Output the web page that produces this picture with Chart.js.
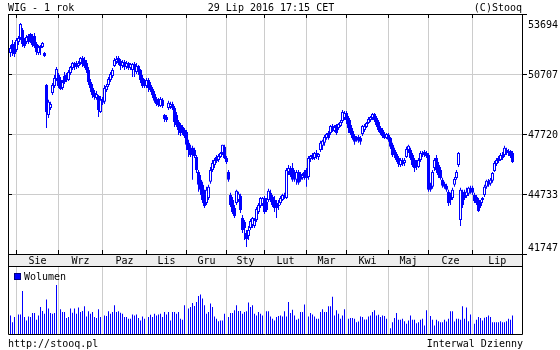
<!DOCTYPE html>
<html>
<head>
<meta charset="utf-8">
<script src="https://cdn.jsdelivr.net/npm/chart.js@4.4.1/dist/chart.umd.min.js"></script>
<style>
  body { margin: 0; background: #fff; }
  #wrap { position: relative; width: 560px; height: 350px; }
  canvas { position: absolute; left: 0; top: 0; }
</style>
</head>
<body>
<div id="wrap">
  <canvas id="price" width="560" height="350"></canvas>
  <canvas id="vol" width="560" height="350"></canvas>
</div>
<script>
// month labels and the index of the first session of each month
const months = ['Sie', 'Wrz', 'Paz', 'Lis', 'Gru', 'Sty', 'Lut', 'Mar', 'Kwi', 'Maj', 'Cze', 'Lip'];
const monthStart = [3, 24, 46, 68, 88, 108, 127, 148, 168, 189, 209, 231];
const priceTicks = [41747, 44733, 47720, 50707, 53694];

// daily WIG candles, 29 Jul 2015 - 29 Jul 2016
const open = [
  51750,52200,52100,51900,52300,52500,52900,52300,52300,52600,52700,52500,52600,52200,51750,52000,52050,51750,50160,48670,
  49020,49760,50110,50460,50660,50410,50010,50610,50660,50410,50760,51010,51110,51260,51110,51260,51500,51410,51260,50910,
  50310,50010,49760,49510,49610,48820,49460,49320,49910,50160,50410,50610,51110,51310,51500,51360,51110,51310,51060,51260,
  51010,50910,51210,50810,51110,50910,50510,50310,50110,50410,50160,49960,49710,49460,49420,49120,49420,48670,48570,49020,
  49070,49220,49020,48670,48320,48170,48070,47920,47820,47280,47030,47030,46930,46580,45830,45440,45190,44690,44290,44540,
  45340,45930,46180,46580,46430,46580,46780,47080,46530,45830,44690,44440,44040,44290,44440,44640,43540,43340,42790,
  42640,43040,43190,43140,43440,43840,44140,44240,44540,44340,44440,44790,44590,44440,44290,44190,44290,44440,44540,44540,
  45830,45930,46030,45680,45440,45830,45730,45530,45830,45930,45580,46480,46680,46530,46780,46580,46930,47130,47280,47520,
  47770,47770,48120,47870,48170,48020,48120,48370,48520,48770,48520,48170,47870,47620,47520,47570,47520,47720,47920,48070,
  48270,48420,48520,48720,48520,48320,48020,47920,47720,47520,47670,47520,47180,46930,46730,46530,46180,46430,46280,46580,
  46930,46930,46680,46430,46280,46080,46430,46680,46830,46780,46680,45190,45090,46030,46530,46180,45930,45440,45240,45140,
  44840,44690,44540,45190,45530,46180,43440,44690,44840,44640,44740,45040,45040,44690,44590,44440,44340,44440,44690,45090,
  45390,45240,45390,45880,46230,46530,46430,46680,46680,46930,46880,46880,46780
];
const high = [
  52150,52400,52300,52500,52600,53250,53000,52500,52650,52700,52750,52700,52750,52300,52150,52150,52300,51800,50210,49420,
  49320,50260,50660,51060,50760,50560,50410,50810,50760,50910,51110,51310,51310,51360,51360,51550,51600,51550,51410,51060,
  50460,50210,49910,49860,49660,49610,49560,50160,50210,50560,50810,51010,51500,51600,51600,51450,51410,51410,51360,51310,
  51260,51260,51310,51260,51160,50960,50660,50460,50510,50510,50310,50060,49860,49560,49510,49560,49510,48720,48670,49370,
  49320,49320,49120,48820,48420,48270,48170,48020,47920,47430,47180,47130,47030,46680,45930,45680,45340,44940,45090,45190,
  46080,46430,46530,46680,46730,46830,47180,47180,46630,45930,44790,44590,44190,44940,44840,44740,43690,43440,42940,
  43140,43490,43590,43540,44090,44290,44590,44590,44640,44540,44990,44940,44690,44640,44440,44440,44640,44740,44790,46030,
  46180,46130,46280,45930,45930,45930,45830,45780,45930,46030,46630,46680,46780,46830,46930,46780,47380,47430,47670,47770,
  47870,48170,48220,48170,48220,48270,48420,48920,48870,48870,48620,48420,48020,47720,47620,47670,47620,48170,48220,48320,
  48570,48620,48770,48770,48620,48420,48120,48020,47820,47770,47770,47570,47280,47030,46830,46630,46530,46530,46530,47080,
  47180,47030,46780,46530,46430,46530,46880,46880,46930,46880,46780,45290,45930,46530,46680,46330,46080,45540,45340,45240,
  44940,44790,45040,45580,45930,46830,45040,44940,44940,45040,45090,45140,45140,44790,44690,44540,44440,44590,45190,45440,
  45480,45530,45830,46380,46530,46630,46780,46830,47130,47030,46980,46930,46880
];
const low = [
  51550,51600,51550,51800,52150,52400,52050,52000,52200,52200,52250,52050,52000,51650,51650,51650,52000,51550,48020,48520,
  48920,49660,50010,50360,50010,49910,49910,50210,50310,50360,50660,50910,50910,50960,51010,51160,51060,51010,50760,50160,
  49810,49510,49420,49420,48570,48770,49170,49220,49810,50060,50310,50510,51060,51210,51160,50910,51010,50910,50960,50910,
  50910,50560,50560,50710,50660,50260,50010,50010,50010,49810,49810,49510,49270,49120,49070,49070,49020,48320,48320,48920,
  48970,48920,48070,48070,47670,47620,47670,47520,46930,46580,46580,45440,46530,45780,44840,44690,44290,44040,44190,44440,
  45240,45830,46030,46280,46330,46530,46680,46480,46230,45340,44090,43740,43540,44190,44340,43790,42790,42440,42090,
  42440,42940,43040,43040,43340,43740,44040,44140,43740,43840,44340,44340,44090,43840,43540,43940,44190,44390,44490,44490,
  45680,45580,45340,45340,45190,45190,45340,45440,45440,45090,45440,46330,46430,46430,46480,46430,46830,46930,47130,47430,
  47430,47670,47820,47820,47670,47920,48070,48270,48420,48220,47770,47670,47430,47180,47330,47280,47180,47620,47820,48020,
  48220,48320,48420,48320,48070,47820,47670,47520,47470,47470,47330,46980,46580,46530,46330,46080,46080,46130,46130,46530,
  46780,46430,46080,45830,45930,46030,46330,46580,46580,46530,44840,44840,44990,45880,45780,45530,45440,45040,44990,44840,
  44140,44190,44440,45090,45440,46080,43140,44040,44440,44540,44640,44740,44690,44290,44190,43840,44040,44290,44590,44990,
  45090,45140,45290,45830,46130,46280,46380,46430,46580,46680,46630,46530,46280
];
const close = [
  52000,51800,51700,52400,52500,53200,52200,52100,52550,52300,52400,52150,52100,51800,52050,52100,52250,51600,48820,49320,
  49220,50160,50510,50960,50110,49960,50310,50310,50410,50810,51060,51260,51210,51060,51260,51500,51210,51110,50910,50310,
  50010,49660,49560,49710,48920,49420,49270,50010,50110,50460,50710,50910,51410,51450,51260,51110,51310,51060,51260,51010,
  51210,51210,50910,51110,50810,50410,50110,50110,50410,50010,49910,49660,49370,49220,49170,49460,49120,48470,48420,49270,
  49220,49020,48320,48170,47920,47770,47820,47620,47180,46930,46680,46780,46630,45930,45190,44940,44440,44140,44940,45090,
  45930,46280,46430,46380,46630,46780,47180,46530,46330,45440,44190,43840,43640,44890,44740,43940,42940,43040,42490,
  42940,43390,43540,43440,43990,44190,44540,44540,43840,43940,44890,44440,44190,44040,44040,44140,44540,44690,44640,45930,
  46030,45680,45440,45530,45830,45290,45440,45680,45580,45530,46530,46630,46480,46780,46580,46730,47280,47380,47570,47720,
  47520,48120,47920,48070,47770,48220,48320,48820,48770,48420,48020,47770,47520,47330,47430,47380,47330,48120,48120,48270,
  48470,48570,48720,48420,48170,47920,47770,47620,47520,47720,47430,47080,46680,46730,46430,46230,46430,46230,46430,46980,
  47130,46530,46180,46030,46080,46430,46780,46780,46680,46630,44940,44940,45830,46430,45930,45680,45530,45140,45090,44940,
  44290,44440,44940,45480,45830,46780,44940,44190,44540,44840,45040,44840,44790,44390,44290,43890,44140,44540,45090,45390,
  45190,45440,45780,46280,46430,46380,46680,46530,47030,46780,46830,46630,46330
];
// Wolumen (mln PLN)
const volume = [
  458,292,417,292,483,483,1058,417,333,433,417,517,517,350,458,666,566,500,850,625,
  517,500,517,1208,500,608,541,541,392,417,625,525,625,500,650,541,566,683,433,558,
  500,541,417,392,608,417,375,458,441,558,500,541,708,541,558,525,500,417,417,375,
  375,483,458,483,392,333,433,375,333,417,475,417,500,458,483,500,417,541,483,541,
  333,541,541,500,541,375,350,708,600,625,666,766,691,791,933,975,875,708,500,541,
  750,666,433,375,317,333,333,500,267,417,517,517,583,708,566,566,500,541,558,775,
  666,708,500,458,541,500,458,500,558,558,433,375,333,417,441,458,433,558,433,791,
  517,600,458,350,375,541,541,725,558,433,517,483,433,375,375,541,608,541,541,683,
  683,916,458,583,500,375,458,608,358,375,392,392,375,292,308,433,417,358,358,433,
  458,541,583,458,475,417,458,441,375,417,142,292,392,517,350,350,375,317,250,333,
  458,350,350,267,292,350,375,208,583,500,441,350,208,350,317,292,292,350,308,375,
  558,558,308,375,375,350,683,375,650,317,483,308,250,350,417,392,333,400,417,458,
  417,292,292,292,292,317,292,292,317,375,350,458
];

const BLUE = '#0000ff';
const GRID = '#cccccc';
const FONT = '10px "DejaVu Sans Mono"';
const X_MIN = -1.25, X_MAX = 255.75;
const idx = close.map((_, i) => i);

function xScale(gridOnTop) {
  return {
    type: 'linear', min: X_MIN, max: X_MAX, offset: false,
    grid: { color: GRID, drawTicks: false, offset: false, z: gridOnTop ? 1 : -1 },
    border: { display: false },
    ticks: { display: false },
    afterBuildTicks: s => { s.ticks = monthStart.map(v => ({ value: v })); },
    afterFit: s => { s.height = 0; }
  };
}

function text(ctx, s, x, y, align) {
  ctx.textAlign = align || 'left';
  ctx.fillText(s, x, y);
}

const frame = {
  id: 'frame',
  afterDraw(chart) {
    const ctx = chart.ctx, a = chart.chartArea;
    const xs = chart.scales.x, ys = chart.scales.y;
    const col = v => Math.floor(xs.getPixelForValue(v)) + 0.5;
    ctx.save();
    ctx.strokeStyle = '#000';
    ctx.lineWidth = 1;
    ctx.strokeRect(a.left + 0.5, a.top + 0.5, a.right - a.left, a.bottom - a.top);

    // month band
    ctx.fillStyle = '#eeeeee';
    ctx.fillRect(a.left, a.bottom, a.right - a.left, 12);
    ctx.strokeRect(a.left + 0.5, a.bottom + 0.5, a.right - a.left, 12);

    // volume panel frame
    ctx.beginPath();
    ctx.moveTo(a.left + 0.5, a.bottom + 12);
    ctx.lineTo(a.left + 0.5, 334.5);
    ctx.lineTo(a.right + 0.5, 334.5);
    ctx.lineTo(a.right + 0.5, a.bottom + 12);
    ctx.stroke();

    // ticks
    ctx.beginPath();
    priceTicks.forEach(v => {
      const y = Math.round(ys.getPixelForValue(v)) + 0.5;
      ctx.moveTo(a.left, y); ctx.lineTo(a.left + 4, y);
      ctx.moveTo(a.right, y); ctx.lineTo(a.right + 5, y);
    });
    monthStart.forEach(v => {
      const x = col(v);
      ctx.moveTo(x, a.bottom - 4); ctx.lineTo(x, a.bottom);
      ctx.moveTo(x, a.top); ctx.lineTo(x, a.top + 4);
    });
    ctx.stroke();

    ctx.fillStyle = '#000';
    ctx.font = FONT;
    ctx.textBaseline = 'alphabetic';
    // price labels, kept inside the plot height
    priceTicks.forEach(v => {
      const y = ys.getPixelForValue(v) + 4;
      text(ctx, String(v), a.right + 6, Math.min(Math.max(y, a.top + 14), a.bottom - 3));
    });
    // month labels centred in each month
    months.forEach((m, i) => {
      const x0 = xs.getPixelForValue(monthStart[i]);
      const x1 = xs.getPixelForValue(i + 1 < monthStart.length ? monthStart[i + 1] : X_MAX);
      text(ctx, m, (x0 + x1) / 2, a.bottom + 10, 'center');
    });

    // header and footer
    text(ctx, 'WIG - 1 rok', 8, 11);
    text(ctx, '29 Lip 2016 17:15 CET', 271, 11, 'center');
    text(ctx, '(C)Stooq', 522, 11, 'right');
    text(ctx, 'http://stooq.pl', 8, 347);
    text(ctx, 'Interwal Dzienny', 523, 347, 'right');
    ctx.restore();
  }
};

// legend of the volume panel, drawn after its grid
const volLegend = {
  id: 'volLegend',
  afterDraw(chart) {
    const ctx = chart.ctx, a = chart.chartArea;
    ctx.save();
    ctx.fillStyle = BLUE;
    ctx.fillRect(a.left + 6, a.top + 6, 7, 7);
    ctx.strokeStyle = '#000080';
    ctx.lineWidth = 1;
    ctx.strokeRect(a.left + 6.5, a.top + 6.5, 6, 6);
    ctx.fillStyle = '#000';
    ctx.font = FONT;
    text(ctx, 'Wolumen', a.left + 16, a.top + 13);
    ctx.restore();
  }
};

new Chart(document.getElementById('price'), {
  type: 'bar',
  data: {
    datasets: [
      {
        data: idx.map(i => ({ x: i, y: [low[i], high[i]] })),
        backgroundColor: BLUE,
        barThickness: 1,
        inflateAmount: 0,
        grouped: false,
        order: 1
      },
      {
        data: idx.map(i => ({ x: i, y: [open[i], close[i]] })),
        backgroundColor: idx.map(i => close[i] >= open[i] ? '#ffffff' : BLUE),
        borderColor: BLUE,
        borderWidth: 1,
        borderSkipped: false,
        barThickness: 3,
        inflateAmount: 0,
        minBarLength: 1,
        grouped: false,
        order: 0
      }
    ]
  },
  options: {
    responsive: false,
    animation: false,
    events: [],
    devicePixelRatio: 1,
    layout: { padding: { left: 8, top: 14, right: 38, bottom: 96 } },
    plugins: { legend: { display: false }, tooltip: { enabled: false } },
    scales: {
      x: xScale(false),
      y: {
        position: 'right', min: 41747, max: 53694,
        grid: { color: GRID, drawTicks: false },
        border: { display: false },
        ticks: { display: false },
        afterBuildTicks: s => { s.ticks = priceTicks.map(v => ({ value: v })); },
        afterFit: s => { s.width = 0; }
      }
    }
  },
  plugins: [frame]
});

new Chart(document.getElementById('vol'), {
  type: 'bar',
  data: {
    datasets: [{
      data: idx.map(i => ({ x: i, y: volume[i] })),
      backgroundColor: BLUE,
      barThickness: 1,
      inflateAmount: 0,
      grouped: false
    }]
  },
  options: {
    responsive: false,
    animation: false,
    events: [],
    devicePixelRatio: 1,
    layout: { padding: { left: 8, top: 267, right: 38, bottom: 16 } },
    plugins: { legend: { display: false }, tooltip: { enabled: false } },
    scales: {
      x: xScale(true),
      y: {
        min: 0, max: 1650,
        grid: { display: false },
        border: { display: false },
        ticks: { display: false },
        afterFit: s => { s.width = 0; }
      }
    }
  },
  plugins: [volLegend]
});
</script>
</body>
</html>
